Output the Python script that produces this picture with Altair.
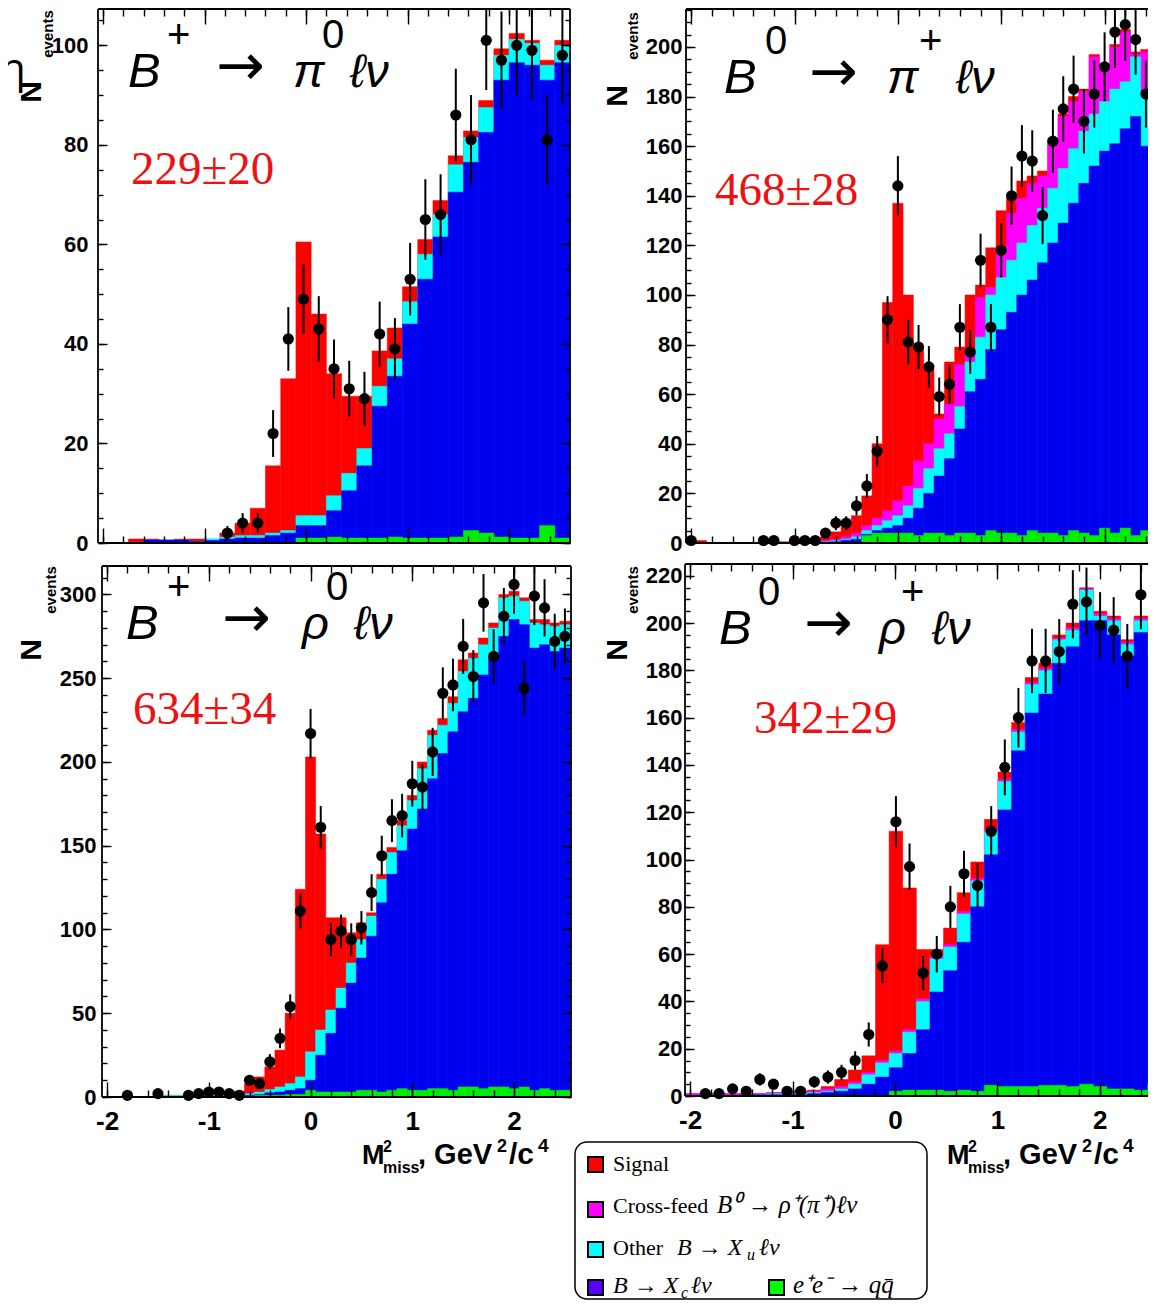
import altair as alt
import pandas as pd

W, H = 1140, 1294

C_SIG, C_XF, C_XU, C_XC, C_QQ = "#ff0000", "#ff00ff", "#00ffff", "#0000f0", "#00ee00"

# ================= DATA (stack tops) =================
# --- Top-left: B+ -> pi0 l nu : 31 bins of 0.15 starting at -2.05
tl_sig = [0, 0, 0.8, 0.8, 0.6, 0.8, 0.8, 0.8, 2, 4, 7, 15.5, 33, 60.5, 46, 34, 29.5, 29.5,
          38.6, 43.2, 51.5, 61, 68.8, 77.8, 82.8, 88.9, 99.3, 102.4, 101, 97, 101]
tl_xu = [0, 0, 0, 0.6, 0.6, 0.6, 0.3, 0.8, 1.2, 1.5, 1.5, 2, 2.5, 5.5, 5.5, 9.5, 14, 19,
         31.5, 37, 48.5, 58, 66, 76, 81.5, 87.5, 98, 101.2, 100.4, 96, 100]
tl_xc = [0, 0, 0, 0.6, 0.6, 0.6, 0.3, 0.5, 0.8, 1, 1, 1.5, 2, 3.5, 3.5, 6.5, 10.5, 15.5,
         27.5, 33.5, 44, 53, 61.5, 70.5, 76.5, 82.5, 93, 96.5, 96, 93, 96.5]
tl_qq = [0] * 13 + [1, 1, 1.2, 1, 1, 1, 1.2, 1, 1, 1, 1.2, 2.5, 2, 1.2, 1, 1, 3.5, 1]
tl_n = [None] * 8 + [2, 4, 4, 22, 41, 49, 43, 35, 31, 29, 42, 39, 53, 65, 66, 86, 81, 101,
                     97, 100, 99, 81, 98]
tl_e = [None] * 8 + [1.4, 2.0, 2.0, 4.7, 6.4, 7.0, 6.6, 5.9, 5.6, 5.4, 6.5, 6.2, 7.3, 8.1,
                     8.1, 9.3, 9.0, 10.0, 9.8, 10.0, 9.9, 9.0, 9.9]

# --- Top-right: B0 -> pi+ l nu : 46 bins of 0.1 starting at -2.05
tr_sig = [0, 1, 0, 0, 0, 0, 0, 1, 1, 0.5, 1, 1, 1.5, 2.5, 4.5, 7.5, 11, 19, 40, 97, 137, 100,
          78, 70, 52, 73, 79, 100, 104, 119, 134, 139, 146, 148, 150, 163, 173, 180, 183, 197,
          192, 201, 207, 198, 199, 199]
tr_xf = [0, 0, 0, 0, 0, 0, 0, 0, 0, 0, 0, 0, 0.5, 1, 1.5, 2.5, 4, 7, 10, 13, 17, 23, 33, 40,
         50, 56, 72, 77, 99, 103, 118, 133, 139, 145, 148, 162, 172, 178, 182, 196, 191, 200,
         206, 197, 198, 198]
tr_xu = [0, 0, 0, 0, 0, 0, 0, 0, 0, 0, 0, 0, 0, 0.5, 1, 1.5, 2.5, 5, 7, 9, 11, 15, 22, 30,
         38, 44, 55, 73, 83, 100, 107, 114, 121, 128, 135, 143, 151, 159, 166, 173, 178, 183,
         186, 196, 181, 190]
tr_xc = [0, 0, 0, 0, 0, 0, 0, 0, 0, 0, 0, 0, 0, 0.3, 0.5, 1, 1.5, 3.5, 5, 6, 7, 10, 14, 20,
         27, 34, 46, 61, 66, 78, 86, 93, 100, 106, 113, 121, 129, 137, 145, 152, 158, 161,
         167, 172, 160, 172]
tr_qq = [0] * 17 + [3, 4, 4, 4, 4, 3, 4, 4, 3, 4, 4, 3, 5, 4, 4, 3, 5, 4, 4, 3, 5, 4, 3, 6,
                    4, 6, 3, 5, 4]
tr_n = [1, None, None, None, None, None, None, 1, 1, None, 1, 1, 1, 4, 8, 8, 15, 23, 37, 90,
        144, 81, 79, 71, 59, 64, 87, 77, 114, 87, 118, 140, 156, 154, 132, 162, 175, 183,
        170, 181, 192, 206, 209, 203, 181, None]
tr_e = [1, None, None, None, None, None, None, 1, 1, None, 1, 1, 1, 2, 2.8, 2.8, 3.9, 4.8,
        6.1, 9.5, 12, 9, 8.9, 8.4, 7.7, 8, 9.3, 8.8, 10.7, 9.3, 10.9, 11.8, 12.5, 12.4, 11.5,
        12.7, 13.2, 13.5, 13, 13.5, 13.9, 14.4, 14.5, 14.2, 13.5, None]

# --- Bottom-left: B+ -> rho0 l nu : 46 bins of 0.1 starting at -2.05
bl_sig = [0, 0, 0, 0, 0, 0.3, 1, 1, 0.8, 1, 1, 1.3, 1.8, 3.5, 8, 12, 18, 28, 50, 124, 203,
          157, 107, 107, 98, 104, 110, 133, 149, 165, 180, 200, 219, 226, 239, 261, 265, 274,
          283, 300, 302, 298, 285, 285, 283, 284]
bl_xu = [0, 0, 0, 0, 0, 0.3, 1, 1, 0.5, 0.5, 0.5, 0.8, 1, 1.5, 2, 3, 4.5, 6, 8, 12, 27, 40,
         52, 65, 80, 94, 108, 130, 146, 162, 177, 196, 216, 222, 235, 254, 262, 270, 280, 298,
         299, 296, 283, 282, 281, 282]
bl_xc = [0, 0, 0, 0, 0, 0, 0, 0, 0, 0, 0.3, 0.3, 0.5, 0.5, 1, 1.5, 2.5, 3, 4, 5, 10, 25, 38,
         53, 68, 83, 96, 116, 133, 147, 160, 172, 190, 205, 218, 230, 238, 252, 262, 275, 285,
         282, 268, 270, 266, 268]
bl_qq = [0] * 15 + [1, 1, 1, 1.5, 1.5, 4, 3, 3, 3, 3, 4, 4, 3, 4, 5, 4, 4, 5, 5, 4, 6, 6, 5,
                    6, 6, 5, 6, 4, 5, 4, 4]
bl_n = [None, None, 1, None, None, 2, None, None, 1, 2, 3, 3, 2, 1, 10, 8, 21, 35, 54, 111,
        217, 161, 94, 99, 94, 101, 122, 144, 165, 168, 187, 185, 206, 241, 246, 269, 251, 295,
        263, 287, 306, 244, 299, 292, 272, 275]
bl_e = [None, None, 1, None, None, 1.4, None, None, 1, 1.4, 1.7, 1.7, 1.4, 1, 3.2, 2.8, 4.6,
        5.9, 7.3, 10.5, 14.7, 12.7, 9.7, 9.9, 9.7, 10, 11, 12, 12.8, 13, 13.7, 13.6, 14.4,
        15.5, 15.7, 16.4, 15.8, 17.2, 16.2, 16.9, 17.5, 15.6, 17.3, 17.1, 16.5, 16.6]

# --- Bottom-right: B0 -> rho+ l nu : 35 bins of 4.65/35 starting at -2.05
br_sig = [1, 1, 1, 1, 1, 1, 1.5, 1.5, 2, 2.5, 4, 7, 11, 17, 64, 112, 88, 62, 62, 71, 86, 99,
          117, 137, 158, 177, 183, 195, 200, 215, 205, 203, 193, 203, 193]
br_xf = [1, 1, 1, 1, 1, 1, 1.5, 1.5, 2, 2, 3, 4, 6, 10, 15, 19, 28, 41, 59, 64, 78, 92, 113,
         134, 155, 175, 181, 193.5, 198, 214.5, 204, 202, 192, 202, 192]
br_xu = [0, 0, 0, 0, 0.5, 0.5, 1, 1, 1, 1.5, 2, 3, 5, 9, 14, 18, 27, 40, 58, 63, 77, 91, 112,
         133, 154, 174, 180, 193, 197, 214, 203, 201, 191, 201, 191]
br_xc = [0, 0, 0, 0, 0.5, 0.5, 0.5, 0.5, 0.5, 1, 1.5, 2, 3, 5, 8, 12, 18, 28, 44, 53, 65, 80,
         102, 121, 146, 162, 170, 183, 190, 201, 201, 195, 186, 196, 186]
br_qq = [0] * 15 + [2, 2.5, 2.5, 2.5, 2, 2.5, 2, 4.5, 4, 4, 4, 4.5, 4.5, 4, 5, 4, 3, 3, 2.5, 5]
br_n = [None, 1, 1, 3, 2, 7, 5, 2, 2, 6, 8, 10, 15, 26, 55, 116, 97, 52, 60, 80, 94, 89, 112,
        139, 160, 184, 184, 188, 208, 209, 199, 197, 186, 212, 180]
br_e = [None, 1, 1, 1.7, 1.4, 2.6, 2.2, 1.4, 1.4, 2.4, 2.8, 3.2, 3.9, 5.1, 7.4, 10.8, 9.8,
        7.2, 7.7, 8.9, 9.7, 9.4, 10.6, 11.8, 12.6, 13.6, 13.6, 13.7, 14.4, 14.5, 14.1, 14,
        13.6, 14.6, 13.4]

XMAJ = [-2, -1, 0, 1, 2]
XMIN = [round(-2.0 + 0.2 * i, 1) for i in range(23)]


def bars_df(start, width, layers):
    rows = []
    for col, tops in layers:
        for k, t in enumerate(tops):
            if t > 0:
                rows.append({"x0": start + k * width, "x1": start + (k + 1) * width,
                             "top": t, "base": 0.0, "col": col})
    return pd.DataFrame(rows)


def pts_df(start, width, n, e):
    rows = []
    for k, (v, s) in enumerate(zip(n, e)):
        if v is None:
            continue
        rows.append({"xc": start + (k + 0.5) * width, "n": v, "lo": v - s, "hi": v + s})
    return pd.DataFrame(rows)


PANELS = [
    dict(start=-2.05, width=0.15,
         layers=[(C_SIG, tl_sig), (C_XU, tl_xu), (C_XC, tl_xc), (C_QQ, tl_qq)],
         n=tl_n, e=tl_e, xdom=[-2.05, 2.6], xr=[90, 562], ymax=107.3, yb=535, yt=1,
         ymaj=[0, 20, 40, 60, 80, 100], ymin=list(range(0, 106, 5)), xlabels=False,
         right=True, lpad=10),
    dict(start=-2.05, width=0.1,
         layers=[(C_SIG, tr_sig), (C_XF, tr_xf), (C_XU, tr_xu), (C_XC, tr_xc), (C_QQ, tr_qq)],
         n=tr_n, e=tr_e, xdom=[-2.05, 2.42], xr=[678, 1140], ymax=215.3, yb=535, yt=1,
         ymaj=list(range(0, 201, 20)), ymin=list(range(0, 216, 5)), xlabels=False,
         right=False, lpad=4),
    dict(start=-2.05, width=0.1,
         layers=[(C_SIG, bl_sig), (C_XU, bl_xu), (C_XC, bl_xc), (C_QQ, bl_qq)],
         n=bl_n, e=bl_e, xdom=[-2.05, 2.56], xr=[94, 563], ymax=317, yb=1089, yt=558,
         ymaj=list(range(0, 301, 50)), ymin=list(range(0, 317, 10)), xlabels=True,
         right=True, lpad=6),
    dict(start=-2.05, width=4.65 / 35,
         layers=[(C_SIG, br_sig), (C_XF, br_xf), (C_XU, br_xu), (C_XC, br_xc), (C_QQ, br_qq)],
         n=br_n, e=br_e, xdom=[-2.05, 2.47], xr=[677, 1140], ymax=225, yb=1088, yt=556,
         ymaj=list(range(0, 221, 20)), ymin=list(range(0, 225, 5)), xlabels=True,
         right=False, lpad=3),
]


def panel_layers(p):
    xs = alt.Scale(domain=p["xdom"], range=p["xr"], nice=False, zero=False)
    ys = alt.Scale(domain=[0, p["ymax"]], range=[p["yb"], p["yt"]], nice=False, zero=False,
                   clamp=True)
    xl, xr_ = p["xr"]
    com = dict(domain=False, grid=False, title=None, zindex=2, tickColor="black",
               tickWidth=1.4)
    ax_xmaj_b = alt.Axis(orient="bottom", values=XMAJ, tickSize=15, offset=p["yb"] - 15 - H,
                         labels=p["xlabels"], labelFontSize=26, labelPadding=11,
                         labelExpr="'' + datum.value", labelFlush=False, **com)
    ax_xmin_b = alt.Axis(orient="bottom", values=XMIN, tickSize=7, offset=p["yb"] - 7 - H,
                         labels=False, **com)
    ax_xmaj_t = alt.Axis(orient="top", values=XMAJ, tickSize=15, offset=-(p["yt"] + 15),
                         labels=False, **com)
    ax_xmin_t = alt.Axis(orient="top", values=XMIN, tickSize=7, offset=-(p["yt"] + 7),
                         labels=False, **com)
    ax_ymaj_l = alt.Axis(orient="left", values=p["ymaj"], tickSize=9, offset=-(xl + 9),
                         labelFontSize=22, labelPadding=p["lpad"], labelFlush=False, **com)
    ax_ymin_l = alt.Axis(orient="left", values=p["ymin"], tickSize=5, offset=-(xl + 5),
                         labels=False, **com)
    ax_ymaj_r = alt.Axis(orient="right", values=p["ymaj"], tickSize=9,
                         offset=(xr_ - 9) - W, labels=False, **com) if p["right"] else None
    ax_ymin_r = alt.Axis(orient="right", values=p["ymin"], tickSize=5,
                         offset=(xr_ - 5) - W, labels=False, **com) if p["right"] else None

    bdf = bars_df(p["start"], p["width"], p["layers"])
    bars = alt.Chart(bdf).mark_rect(clip=True, strokeWidth=0.5).encode(
        x=alt.X("x0:Q", scale=xs, axis=ax_xmaj_b), x2="x1:Q",
        y=alt.Y("top:Q", scale=ys, axis=ax_ymaj_l), y2="base:Q",
        color=alt.Color("col:N", scale=None), stroke=alt.Stroke("col:N", scale=None))

    x0d, x1d = p["xdom"]
    fr = {"xa": [x0d, x0d, x0d], "xb": [x1d, x1d, x0d], "ya": [0, p["ymax"], 0],
          "yb": [0, p["ymax"], p["ymax"]]}
    if p["right"]:
        fr["xa"].append(x1d); fr["xb"].append(x1d); fr["ya"].append(0); fr["yb"].append(p["ymax"])
    frame = alt.Chart(pd.DataFrame(fr)).mark_rule(color="black", strokeWidth=1.8).encode(
        x=alt.X("xa:Q", scale=xs, axis=ax_xmin_t), x2="xb:Q",
        y=alt.Y("ya:Q", scale=ys, axis=ax_ymin_r), y2="yb:Q")

    pdf = pts_df(p["start"], p["width"], p["n"], p["e"])
    errs = alt.Chart(pdf).mark_rule(color="black", strokeWidth=2).encode(
        x=alt.X("xc:Q", scale=xs, axis=ax_xmin_b),
        y=alt.Y("lo:Q", scale=ys, axis=ax_ymin_l), y2="hi:Q")
    pts = alt.Chart(pdf).mark_point(filled=True, shape="circle", size=125, color="black",
                                    opacity=1).encode(
        x=alt.X("xc:Q", scale=xs, axis=ax_xmaj_t),
        y=alt.Y("n:Q", scale=ys, axis=ax_ymaj_r))
    return [bars, frame, errs, pts]


def txt(rows, font="Liberation Sans", style="normal", weight="normal", color="black",
        angle=0, align="left", baseline="alphabetic"):
    df = pd.DataFrame(rows, columns=["t", "px", "py", "fs"])
    return alt.Chart(df).mark_text(font=font, fontStyle=style, fontWeight=weight, color=color,
                                   angle=angle, align=align, baseline=baseline).encode(
        x=alt.X("px:Q", scale=None, axis=None), y=alt.Y("py:Q", scale=None, axis=None),
        size=alt.Size("fs:Q", scale=None, legend=None), text="t:N")


def rects(rows, **kw):
    df = pd.DataFrame(rows, columns=["xa", "ya", "xb", "yb", "f"])
    return alt.Chart(df).mark_rect(**kw).encode(
        x=alt.X("xa:Q", scale=None, axis=None), x2="xb:Q",
        y=alt.Y("ya:Q", scale=None, axis=None), y2="yb:Q",
        fill=alt.Fill("f:N", scale=None))


layers = []
for p in PANELS:
    layers += panel_layers(p)

# ---- channel titles ----
TITLES = [  # x0, baseline, sup1, greek, sup2, offsets
    (120, 79, "+", "π", "0", [0, 39, 88, 165, 194, 222]),
    (716, 85, "0", "π", "+", [0, 41, 85, 163, 195, 232]),
    (118, 631, "+", "ρ", "0", [0, 41, 96, 176, 200, 228]),
    (711, 636, "0", "ρ", "+", [0, 39, 85, 160, 182, 213]),
]
t_it, t_up, t_ar = [], [], []
for x0, y0, s1, g, s2, o in TITLES:
    t_it += [("B", x0 + o[0], y0, 49), (g, x0 + o[3], y0, 47), ("ℓν", x0 + o[5], y0, 47)]
    t_up += [(s1, x0 + o[1], y0 - 39, 40), (s2, x0 + o[4], y0 - 39, 40)]
    t_ar += [("→", x0 + o[2], y0 - 2, 58)]
layers.append(txt(t_it, style="italic"))
layers.append(txt(t_up))
layers.append(txt(t_ar, font="DejaVu Sans"))

# ---- fitted yields ----
layers.append(txt([("229±20", 123, 176, 47), ("468±28", 707, 197, 47),
                   ("634±34", 125, 716, 47), ("342±29", 746, 725, 47)],
                  font="Liberation Serif", color="#ee1111"))

# ---- y titles N_events ----
layers.append(txt([("N", 24, 84, 30), ("N", 610, 88, 30), ("N", 24, 642, 30),
                   ("N", 610, 642, 30)], weight="bold", angle=270, align="center",
                  baseline="middle"))
layers.append(txt([("events", 40, 26, 15), ("events", 625, 28, 15), ("events", 43, 582, 15),
                   ("events", 625, 582, 15)], weight="bold", angle=270, align="center",
                  baseline="middle"))

# stray glyph at the top-left edge of the picture
layers.append(txt([("η", -8, 75, 42)], font="Open Sans"))

# ---- x titles ----
xt_big, xt_small = [], []
for dx in (0, 585):
    xt_big += [("M", 354 + dx, 1156, 27), (", GeV", 410 + dx, 1156, 29),
               ("/c", 501 + dx, 1156, 30)]
    xt_small += [("2", 375 + dx, 1144, 16), ("miss", 375 + dx, 1165, 16),
                 ("2", 489 + dx, 1144, 18), ("4", 530 + dx, 1144, 19)]
layers.append(txt(xt_big, weight="bold"))
layers.append(txt(xt_small, weight="bold"))

# ---- legend ----
layers.append(rects([(567, 1134, 919, 1291, "white")], cornerRadius=12, stroke="black",
                    strokeWidth=1.5))
layers.append(rects([(580, 1149, 595, 1164, "#ff0000"), (580, 1194, 595, 1209, "#ff00ff"),
                     (580, 1234, 595, 1249, "#00ffff"), (580, 1272, 595, 1287, "#5a00ff"),
                     (761, 1272, 776, 1287, "#00ff00")], stroke="black", strokeWidth=2))
layers.append(txt([("Signal", 605, 1163, 22), ("Cross-feed", 605, 1205, 22),
                   ("Other", 605, 1247, 22)], font="Liberation Serif"))
layers.append(txt([("B⁰ → ρ⁺(π⁺)ℓν", 709, 1205, 25), ("B → X", 669, 1247, 24),
                   ("ℓν", 751, 1247, 24), ("B → X", 605, 1285, 24), ("ℓν", 683, 1285, 24),
                   ("e⁺e⁻ → qq̄", 785, 1285, 25)], font="Liberation Serif", style="italic"))
layers.append(txt([("u", 739, 1252, 16), ("c", 673, 1290, 16)], font="Liberation Serif",
                  style="italic"))

chart = alt.layer(*layers).resolve_scale(x="independent", y="independent").resolve_axis(
    x="independent", y="independent").properties(
    width=W, height=H, autosize=alt.AutoSizeParams(type="none"), padding=0,
    background="white").configure_view(stroke=None).configure_axis(
    labelFont="Liberation Sans", labelFontWeight="bold", labelColor="black")

chart.save("out.html", embed_options={"renderer": "svg", "actions": False})
